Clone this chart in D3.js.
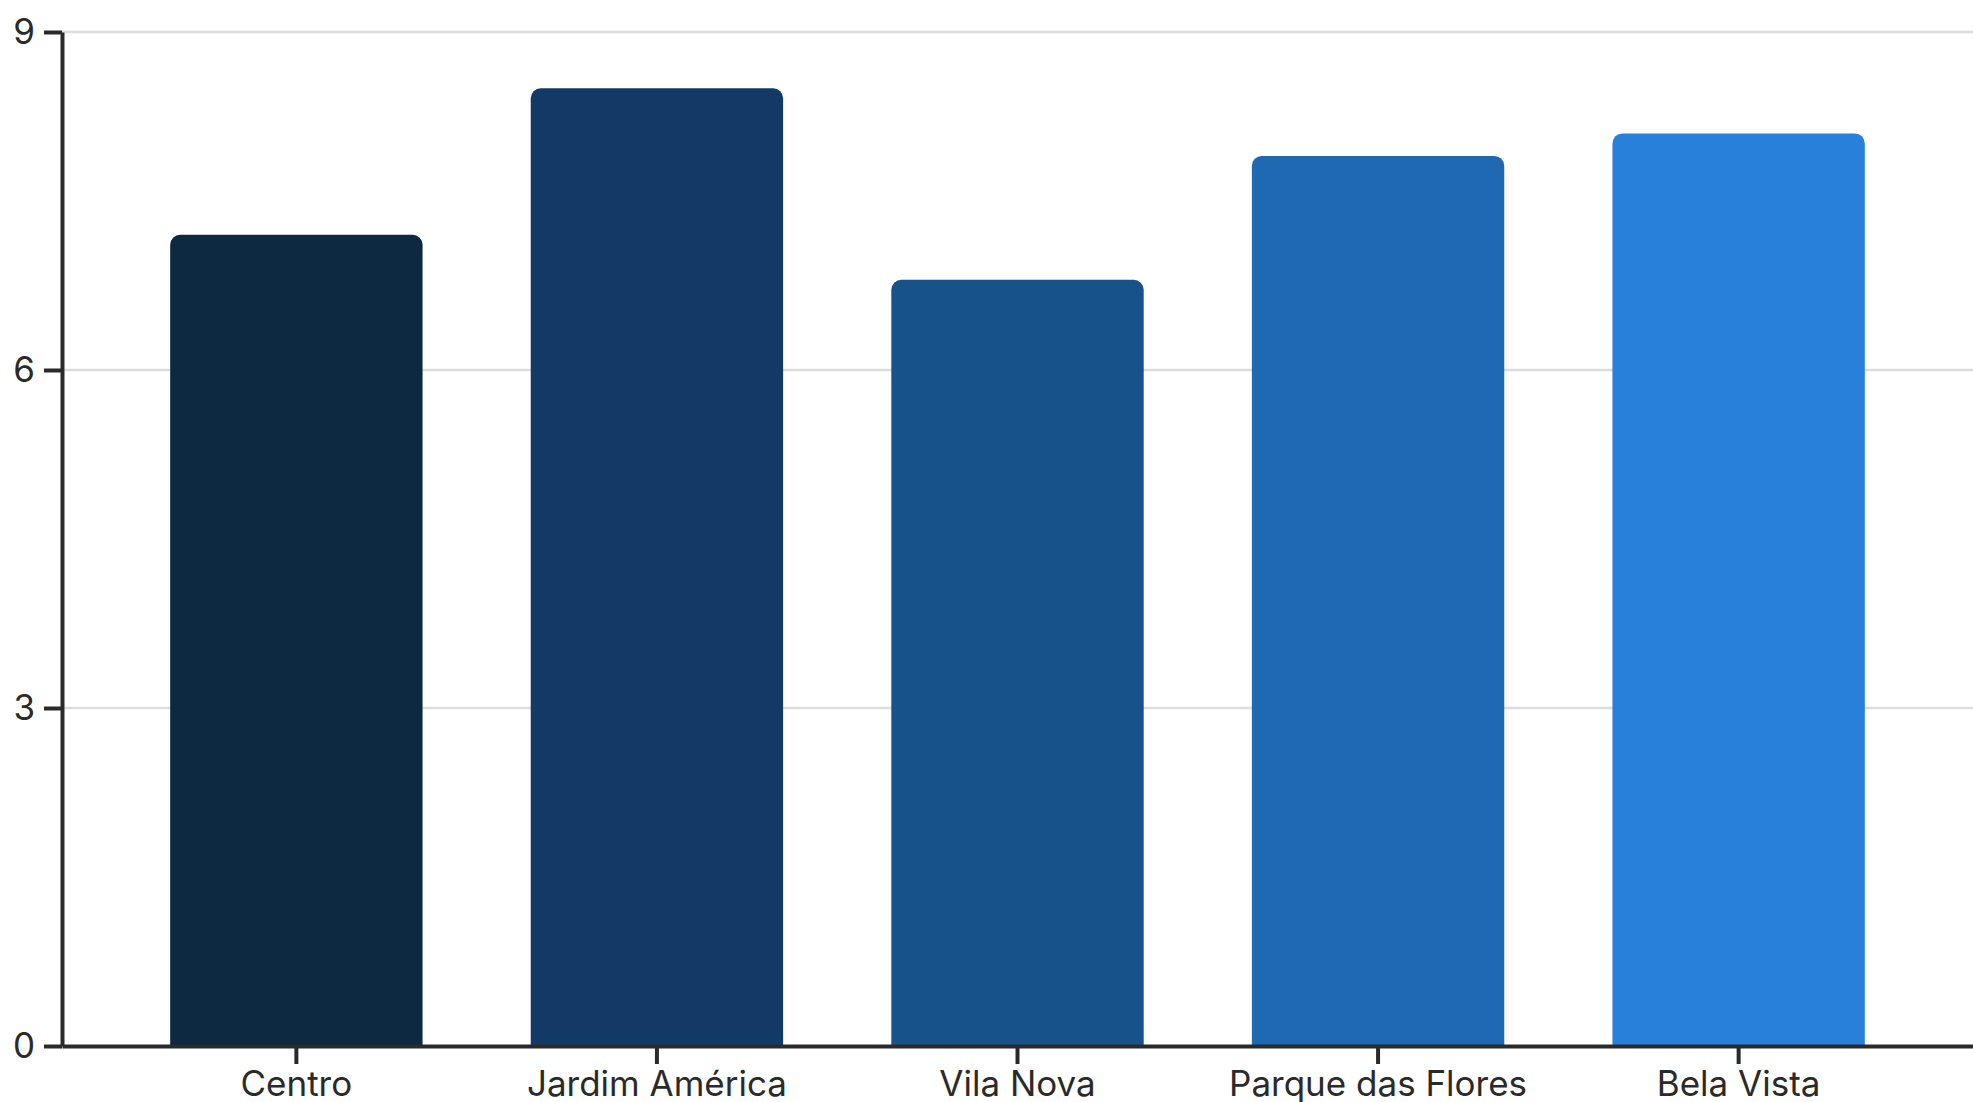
<!DOCTYPE html>
<html>
<head>
<meta charset="utf-8">
<script src="https://cdn.jsdelivr.net/npm/d3@7"></script>
<style>
  html, body { margin: 0; padding: 0; background: #fff; overflow: hidden; }
  .axis text { font-family: Inter, "Noto Sans", sans-serif; font-size: 35px; fill: #2a2a2a; }
  .axis path, .axis line { stroke: #2a2a2a; stroke-width: 4; }
  .grid line { stroke: #dcdcdc; stroke-width: 2.5; }
</style>
</head>
<body>
<svg id="graph"></svg>
<script>
var bairros = ['Centro', 'Jardim América', 'Vila Nova', 'Parque das Flores', 'Bela Vista'];
var valores = [7.2, 8.5, 6.8, 7.9, 8.1];
var cores = ['#0d2841', '#133a66', '#18528a', '#1f69b3', '#2880da'];
var yTicks = [0, 3, 6, 9];

var WIDTH = 1973,
    HEIGHT = 1102,
    MARGINS = { top: 32, right: 0, bottom: 56, left: 62 };

var vis = d3.select('#graph')
  .attr('width', WIDTH)
  .attr('height', HEIGHT);

var xRange = d3.scaleBand()
  .domain(bairros)
  .range([MARGINS.left, WIDTH - MARGINS.right])
  .paddingInner(0.3)
  .paddingOuter(0.3);

var yRange = d3.scaleLinear()
  .domain([0, 9])
  .range([HEIGHT - MARGINS.bottom, MARGINS.top]);

// grid lines (not at zero)
vis.append('g')
  .attr('class', 'grid')
  .selectAll('line')
  .data(yTicks.filter(function (d) { return d > 0; }))
  .enter().append('line')
  .attr('x1', MARGINS.left)
  .attr('x2', WIDTH)
  .attr('y1', function (d) { return yRange(d); })
  .attr('y2', function (d) { return yRange(d); });

// bars with rounded top corners
var r = 10;
vis.append('g')
  .selectAll('path')
  .data(bairros)
  .enter().append('path')
  .attr('fill', function (d, i) { return cores[i]; })
  .attr('d', function (d, i) {
    var x0 = xRange(d),
        w = xRange.bandwidth(),
        y0 = yRange(0),
        y1 = yRange(valores[i]);
    return 'M' + x0 + ',' + y0 +
      'V' + (y1 + r) +
      'A' + r + ',' + r + ' 0 0 1 ' + (x0 + r) + ',' + y1 +
      'H' + (x0 + w - r) +
      'A' + r + ',' + r + ' 0 0 1 ' + (x0 + w) + ',' + (y1 + r) +
      'V' + y0 + 'Z';
  });

var xAxis = d3.axisBottom(xRange)
  .tickSize(18)
  .tickPadding(7)
  .tickSizeOuter(0);

vis.append('g')
  .attr('class', 'x axis')
  .attr('transform', 'translate(0,' + yRange(0) + ')')
  .call(xAxis);

var yAxis = d3.axisLeft(yRange)
  .tickValues(yTicks)
  .tickSize(18)
  .tickPadding(9)
  .tickSizeOuter(0);

vis.append('g')
  .attr('class', 'y axis')
  .attr('transform', 'translate(' + MARGINS.left + ',0)')
  .call(yAxis);
</script>
</body>
</html>
